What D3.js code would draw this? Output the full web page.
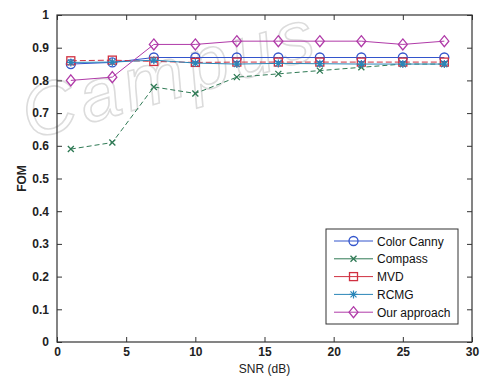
<!DOCTYPE html>
<html>
<head>
<meta charset="utf-8">
<script src="https://cdn.jsdelivr.net/npm/d3@7"></script>
<style>
  body { margin: 0; background: #fff; }
  svg { font-family: "Liberation Sans", Arial, sans-serif; }
</style>
</head>
<body>
<div id="chart"></div>
<script>
// SNR values (dB) and FOM for each method
const snr = [1, 4, 7, 10, 13, 16, 19, 22, 25, 28]
const colorCanny = [0.85, 0.855, 0.87, 0.87, 0.87, 0.87, 0.87, 0.87, 0.87, 0.87]
const compass = [0.59, 0.61, 0.78, 0.76, 0.81, 0.82, 0.83, 0.84, 0.85, 0.85]
const mvd = [0.86, 0.862, 0.858, 0.855, 0.856, 0.856, 0.856, 0.856, 0.856, 0.856]
const rcmg = [0.855, 0.856, 0.862, 0.853, 0.85, 0.852, 0.851, 0.85, 0.85, 0.85]
const ours = [0.80, 0.81, 0.91, 0.91, 0.92, 0.92, 0.92, 0.92, 0.91, 0.92]
const xTicks = [0, 5, 10, 15, 20, 25, 30]
const yTicks = [0, 0.1, 0.2, 0.3, 0.4, 0.5, 0.6, 0.7, 0.8, 0.9, 1]

const series = [
  { name: 'Color Canny', values: colorCanny, color: '#3355cc', marker: 'circle', dash: null },
  { name: 'Compass', values: compass, color: '#2f7a55', marker: 'x', dash: '5,3' },
  { name: 'MVD', values: mvd, color: '#d03040', marker: 'square', dash: '6,3' },
  { name: 'RCMG', values: rcmg, color: '#2a86b8', marker: 'star', dash: null },
  { name: 'Our approach', values: ours, color: '#b03aa8', marker: 'diamond', dash: null },
]

const width = 484
const height = 377
const margin = { top: 15, right: 12, bottom: 35, left: 57 }
const w = width - margin.left - margin.right
const h = height - margin.top - margin.bottom

const svg = d3.select('#chart').append('svg')
  .attr('width', width)
  .attr('height', height)

// faint watermark
svg.append('text')
  .attr('x', 30).attr('y', 140)
  .attr('transform', 'rotate(-16, 30, 140)')
  .attr('font-size', 74)
  .attr('font-style', 'italic')
  .attr('textLength', 300)
  .attr('fill', 'none')
  .attr('stroke', '#dcdcdc')
  .attr('stroke-width', 1.6)
  .text('Campus')

const g = svg.append('g').attr('transform', `translate(${margin.left},${margin.top})`)

const x = d3.scaleLinear().domain([0, 30]).range([0, w])
const y = d3.scaleLinear().domain([0, 1]).range([h, 0])

// axes with inward ticks, mirrored on top/right
const fmt = d => d === 0 ? '0' : d === 1 ? '1' : d3.format('.1f')(d)
const axisStyle = sel => {
  sel.select('.domain').remove()
  sel.selectAll('text').attr('fill', '#222').attr('font-size', 12).attr('font-weight', 'bold')
  sel.selectAll('line').attr('stroke', '#333')
}
g.append('g').attr('transform', `translate(0,${h})`)
  .call(d3.axisBottom(x).tickValues(xTicks).tickSize(-5).tickPadding(5).tickFormat(d3.format('d')))
  .call(axisStyle)
g.append('g')
  .call(d3.axisTop(x).tickValues(xTicks).tickSize(-5).tickFormat(''))
  .call(axisStyle)
g.append('g')
  .call(d3.axisLeft(y).tickValues(yTicks).tickSize(-5).tickPadding(8).tickFormat(fmt))
  .call(axisStyle)
g.append('g').attr('transform', `translate(${w},0)`)
  .call(d3.axisRight(y).tickValues(yTicks).tickSize(-5).tickFormat(''))
  .call(axisStyle)

g.append('rect')
  .attr('width', w).attr('height', h)
  .attr('fill', 'none').attr('stroke', '#333').attr('stroke-width', 1.2)

// labels
svg.append('text')
  .attr('x', margin.left + w / 2).attr('y', height - 4)
  .attr('text-anchor', 'middle').attr('font-size', 12).attr('fill', '#222')
  .text('SNR (dB)')
svg.append('text')
  .attr('transform', `translate(26,${margin.top + h / 2}) rotate(-90)`)
  .attr('text-anchor', 'middle').attr('font-size', 12).attr('font-weight', 'bold').attr('fill', '#222')
  .text('FOM')

function drawMarker(sel, type, color) {
  if (type === 'circle') {
    sel.append('circle').attr('r', 4.5).attr('fill', 'none').attr('stroke', color).attr('stroke-width', 1.3)
  } else if (type === 'square') {
    sel.append('rect').attr('x', -4).attr('y', -4).attr('width', 8).attr('height', 8)
      .attr('fill', 'none').attr('stroke', color).attr('stroke-width', 1.3)
  } else if (type === 'diamond') {
    sel.append('path').attr('d', 'M0,-5.5L4.5,0L0,5.5L-4.5,0Z')
      .attr('fill', 'none').attr('stroke', color).attr('stroke-width', 1.3)
  } else if (type === 'x') {
    sel.append('path').attr('d', 'M-3,-3L3,3M-3,3L3,-3')
      .attr('stroke', color).attr('stroke-width', 1.3)
  } else if (type === 'star') {
    sel.append('path').attr('d', 'M0,-4V4M-4,0H4M-3,-3L3,3M-3,3L3,-3')
      .attr('stroke', color).attr('stroke-width', 1.2)
  }
}

const line = d3.line().x(d => x(d[0])).y(d => y(d[1]))

series.forEach(s => {
  const pts = snr.map((v, i) => [v, s.values[i]])
  g.append('path')
    .datum(pts)
    .attr('d', line)
    .attr('fill', 'none')
    .attr('stroke', s.color)
    .attr('stroke-width', 1)
    .attr('stroke-dasharray', s.dash)
  g.selectAll(null).data(pts).enter().append('g')
    .attr('transform', d => `translate(${x(d[0])},${y(d[1])})`)
    .each(function () { drawMarker(d3.select(this), s.marker, s.color) })
})

// legend
const lg = svg.append('g').attr('transform', 'translate(326,229)')
lg.append('rect').attr('width', 132).attr('height', 95)
  .attr('fill', '#fff').attr('stroke', '#333').attr('stroke-width', 1)
series.forEach((s, i) => {
  const row = lg.append('g').attr('transform', `translate(0,${12 + i * 17.8})`)
  row.append('line').attr('x1', 8).attr('x2', 47).attr('stroke', s.color).attr('stroke-width', 1)
  const m = row.append('g').attr('transform', 'translate(27.5,0)')
  drawMarker(m, s.marker, s.color)
  row.append('text').attr('x', 51).attr('y', 4.5)
    .attr('font-size', 12).attr('fill', '#111')
    .text(s.name)
})
</script>
</body>
</html>
